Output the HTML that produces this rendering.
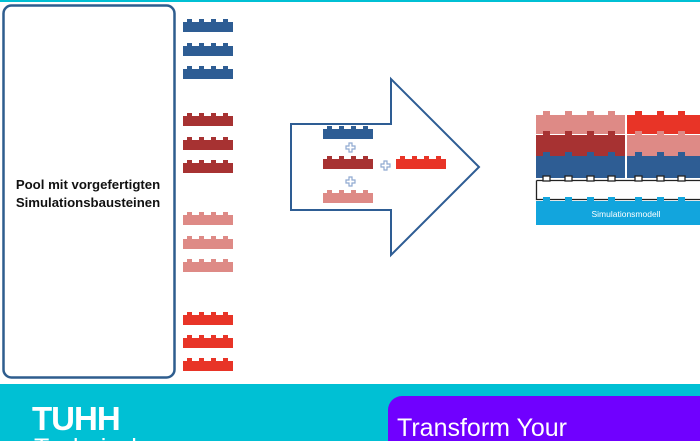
<!DOCTYPE html>
<html><head><meta charset="utf-8"><style>
html,body{margin:0;padding:0;width:700px;height:441px;overflow:hidden;background:#fff;font-family:"Liberation Sans",sans-serif}
</style></head><body>
<svg width="700" height="441" viewBox="0 0 700 441" xmlns="http://www.w3.org/2000/svg" style="position:absolute;left:0;top:0">
<defs>
<path id="b" d="M0,3h4v-3h5v3h7v-3h5v3h7v-3h5v3h7v-3h5v3h5v10h-50z"/>
</defs>
<rect x="0" y="0" width="700" height="2" fill="#00c0d4"/>
<rect x="3.5" y="5.5" width="171" height="372" rx="8" fill="#fff" stroke="#2e5d8e" stroke-width="2.5"/>
<text x="88" y="189" text-anchor="middle" font-size="13.2" font-weight="bold" fill="#111">Pool mit vorgefertigten</text>
<text x="88" y="207" text-anchor="middle" font-size="13.2" font-weight="bold" fill="#111">Simulationsbausteinen</text>
<g fill="#2e5d94"><use href="#b" x="183" y="19"/><use href="#b" x="183" y="43"/><use href="#b" x="183" y="66"/></g>
<g fill="#a73232"><use href="#b" x="183" y="113"/><use href="#b" x="183" y="137"/><use href="#b" x="183" y="160"/></g>
<g fill="#de8a86"><use href="#b" x="183" y="212"/><use href="#b" x="183" y="236"/><use href="#b" x="183" y="259"/></g>
<g fill="#e83427"><use href="#b" x="183" y="312"/><use href="#b" x="183" y="335"/><use href="#b" x="183" y="358"/></g>
<path d="M291,124H391V79L479,167L391,255V210H291Z" fill="#fff" stroke="#2e5d94" stroke-width="2"/>
<use href="#b" x="323" y="126" fill="#2e5d94"/>
<use href="#b" x="323" y="156" fill="#a73232"/>
<use href="#b" x="396" y="156" fill="#e83427"/>
<use href="#b" x="323" y="190" fill="#de8a86"/>
<g fill="#fff" stroke="#8fa9d0" stroke-width="1.2">
<path d="M346,146h3v-3h3v3h3v3h-3v3h-3v-3h-3z"/>
<path d="M381,164h3v-3h3v3h3v3h-3v3h-3v-3h-3z"/>
<path d="M346,180h3v-3h3v3h3v3h-3v3h-3v-3h-3z"/>
</g>
<g>
<rect x="536" y="115" width="89" height="19" fill="#de8a86"/>
<rect x="627" y="115" width="73" height="19" fill="#e83427"/>
<rect x="536" y="135" width="89" height="21" fill="#a73232"/>
<rect x="627" y="135" width="73" height="21" fill="#de8a86"/>
<rect x="536" y="156" width="89" height="22" fill="#2e5d94"/>
<rect x="627" y="156" width="73" height="22" fill="#2e5d94"/>
<g fill="#de8a86"><rect x="543" y="111" width="7" height="5"/><rect x="565" y="111" width="7" height="5"/><rect x="587" y="111" width="7" height="5"/><rect x="608" y="111" width="7" height="5"/></g>
<g fill="#e83427"><rect x="635" y="111" width="7" height="5"/><rect x="657" y="111" width="7" height="5"/><rect x="678" y="111" width="7" height="5"/></g>
<g fill="#a73232"><rect x="543" y="131" width="7" height="5"/><rect x="565" y="131" width="7" height="5"/><rect x="587" y="131" width="7" height="5"/><rect x="608" y="131" width="7" height="5"/></g>
<g fill="#de8a86"><rect x="635" y="131" width="7" height="5"/><rect x="657" y="131" width="7" height="5"/><rect x="678" y="131" width="7" height="5"/></g>
<g fill="#2e5d94"><rect x="543" y="152" width="7" height="5"/><rect x="565" y="152" width="7" height="5"/><rect x="587" y="152" width="7" height="5"/><rect x="608" y="152" width="7" height="5"/><rect x="635" y="152" width="7" height="5"/><rect x="657" y="152" width="7" height="5"/><rect x="678" y="152" width="7" height="5"/></g>
<path d="M536.5,180.5H700M536.5,180.5V199.5H700" fill="none" stroke="#222" stroke-width="1.3"/>
<g fill="#fff" stroke="#222" stroke-width="1.3"><rect x="543" y="176" width="7" height="5"/><rect x="565" y="176" width="7" height="5"/><rect x="587" y="176" width="7" height="5"/><rect x="608" y="176" width="7" height="5"/><rect x="635" y="176" width="7" height="5"/><rect x="657" y="176" width="7" height="5"/><rect x="678" y="176" width="7" height="5"/></g>
<rect x="536" y="201" width="164" height="24" fill="#12a5dd"/>
<g fill="#12a5dd"><rect x="543" y="197" width="7" height="5"/><rect x="565" y="197" width="7" height="5"/><rect x="587" y="197" width="7" height="5"/><rect x="608" y="197" width="7" height="5"/><rect x="635" y="197" width="7" height="5"/><rect x="657" y="197" width="7" height="5"/><rect x="678" y="197" width="7" height="5"/></g>
<text x="626" y="217" text-anchor="middle" font-size="8.5" fill="#fff">Simulationsmodell</text>
</g>
<rect x="0" y="384" width="700" height="57" fill="#00c0d4"/>
<rect x="388" y="396" width="330" height="60" rx="14" fill="#7000ff"/>
<text x="32" y="430" font-size="33" font-weight="bold" fill="#fff" letter-spacing="-1">TUHH</text>
<text x="34" y="456" font-size="25" fill="#fff">Technische</text>
<text x="397" y="436" font-size="25" fill="#fff">Transform Your</text>
</svg>
</body></html>
